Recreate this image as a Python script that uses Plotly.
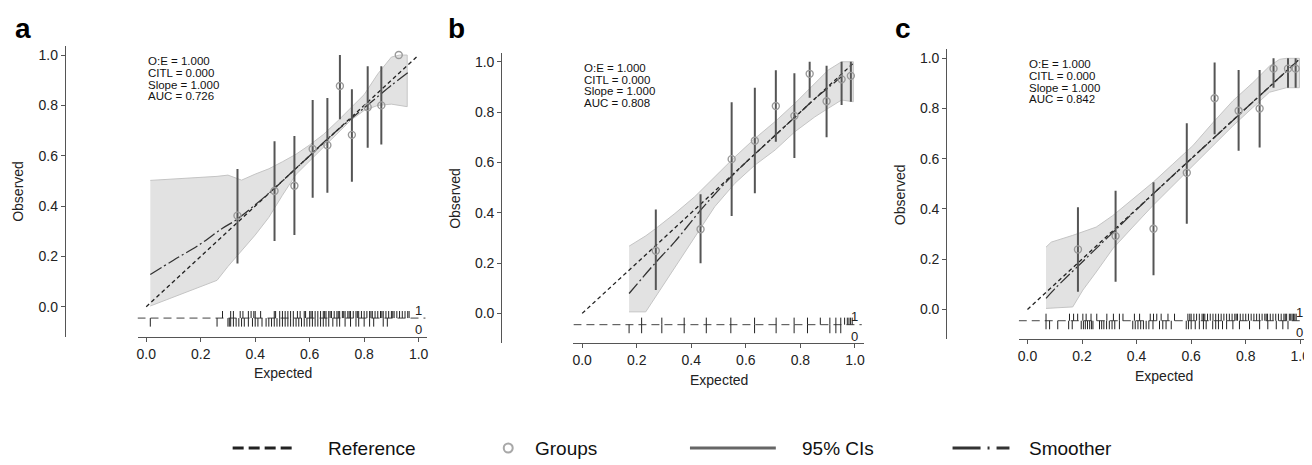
import plotly.graph_objects as go

FONT = "Liberation Sans, Arial, Helvetica, sans-serif"

# ------------------------------------------------------------------ data
x_ticks = [0.0, 0.2, 0.4, 0.6, 0.8, 1.0]
y_ticks = [0.0, 0.2, 0.4, 0.6, 0.8, 1.0]
stat_names = ["O:E", "CITL", "Slope", "AUC"]
stats_a = [1.000, 0.000, 1.000, 0.726]
stats_b = [1.000, 0.000, 1.000, 0.808]
stats_c = [1.000, 0.000, 1.000, 0.842]

# grouped observed proportions with 95% CIs
grp_x_a = [0.335, 0.471, 0.544, 0.611, 0.665, 0.711, 0.755, 0.813, 0.863, 0.927]
grp_y_a = [0.362, 0.460, 0.481, 0.627, 0.642, 0.877, 0.683, 0.793, 0.800, 1.000]
grp_lo_a = [0.172, 0.261, 0.285, 0.433, 0.453, 0.745, 0.497, 0.632, 0.645, 1.000]
grp_hi_a = [0.547, 0.658, 0.678, 0.821, 0.829, 1.000, 0.864, 0.956, 0.956, 1.000]

grp_x_b = [0.270, 0.434, 0.548, 0.633, 0.710, 0.778, 0.834, 0.896, 0.951, 0.985]
grp_y_b = [0.249, 0.334, 0.613, 0.686, 0.824, 0.785, 0.952, 0.843, 0.930, 0.944]
grp_lo_b = [0.093, 0.199, 0.387, 0.477, 0.682, 0.617, 0.857, 0.700, 0.828, 0.841]
grp_hi_b = [0.413, 0.473, 0.839, 0.897, 0.966, 0.954, 1.000, 0.984, 1.000, 1.000]

grp_x_c = [0.185, 0.323, 0.462, 0.584, 0.686, 0.774, 0.851, 0.902, 0.955, 0.983]
grp_y_c = [0.239, 0.292, 0.321, 0.544, 0.841, 0.791, 0.800, 0.959, 0.959, 0.959]
grp_lo_c = [0.070, 0.110, 0.136, 0.341, 0.698, 0.632, 0.645, 0.883, 0.883, 0.883]
grp_hi_c = [0.407, 0.473, 0.506, 0.741, 0.983, 0.954, 0.954, 1.000, 1.000, 1.000]

# smoother (flexible calibration curve)
smo_x_a = [0.015, 0.10, 0.20, 0.28, 0.33, 0.40, 0.47, 0.55, 0.60, 0.65, 0.70, 0.75, 0.80, 0.85, 0.90, 0.96]
smo_y_a = [0.128, 0.185, 0.250, 0.312, 0.345, 0.405, 0.470, 0.550, 0.600, 0.652, 0.700, 0.745, 0.790, 0.835, 0.880, 0.930]
smo_x_b = [0.172, 0.267, 0.340, 0.434, 0.500, 0.548, 0.600, 0.700, 0.800, 0.850, 0.900, 0.955]
smo_y_b = [0.079, 0.199, 0.285, 0.410, 0.490, 0.545, 0.600, 0.700, 0.800, 0.850, 0.895, 0.945]
smo_x_c = [0.068, 0.100, 0.200, 0.300, 0.400, 0.500, 0.600, 0.700, 0.800, 0.900, 0.985]
smo_y_c = [0.044, 0.082, 0.188, 0.293, 0.398, 0.500, 0.600, 0.700, 0.800, 0.900, 0.985]

# smoother confidence band
band_x_a = [0.015, 0.10, 0.20, 0.26, 0.30, 0.35, 0.40, 0.45, 0.50, 0.55, 0.60, 0.65, 0.70, 0.75, 0.80, 0.85, 0.90, 0.93, 0.958]
band_hi_a = [0.502, 0.507, 0.513, 0.518, 0.523, 0.503, 0.527, 0.548, 0.576, 0.606, 0.643, 0.684, 0.735, 0.789, 0.843, 0.925, 0.992, 1.000, 1.000]
band_lo_a = [0.003, 0.040, 0.080, 0.105, 0.160, 0.223, 0.285, 0.355, 0.443, 0.526, 0.580, 0.634, 0.687, 0.740, 0.780, 0.800, 0.805, 0.800, 0.795]

band_x_b = [0.172, 0.233, 0.267, 0.340, 0.413, 0.486, 0.560, 0.633, 0.707, 0.780, 0.853, 0.902, 0.951, 0.994]
band_hi_b = [0.267, 0.308, 0.335, 0.397, 0.464, 0.543, 0.622, 0.695, 0.762, 0.835, 0.914, 0.967, 1.000, 1.000]
band_lo_b = [0.006, 0.006, 0.060, 0.185, 0.304, 0.424, 0.517, 0.589, 0.649, 0.722, 0.781, 0.815, 0.848, 0.841]

band_x_c = [0.068, 0.087, 0.166, 0.203, 0.252, 0.313, 0.386, 0.460, 0.533, 0.606, 0.680, 0.753, 0.826, 0.887, 0.924, 0.949, 0.997]
band_hi_c = [0.248, 0.268, 0.295, 0.310, 0.328, 0.374, 0.440, 0.506, 0.579, 0.652, 0.744, 0.831, 0.903, 0.969, 0.996, 1.000, 1.000]
band_lo_c = [0.004, 0.004, 0.010, 0.077, 0.149, 0.242, 0.328, 0.414, 0.493, 0.573, 0.652, 0.731, 0.804, 0.865, 0.875, 0.883, 0.883]

# rug of predicted risks (1 = events above the line, 0 = non-events below)
rug1_a = [0.28, 0.31, 0.32, 0.345, 0.355, 0.375, 0.385, 0.395, 0.40, 0.42, 0.47, 0.475, 0.49, 0.50,
          0.51, 0.52, 0.53, 0.54, 0.555, 0.565, 0.58, 0.585, 0.60, 0.605, 0.61, 0.62, 0.63, 0.64,
          0.65, 0.655, 0.66, 0.67, 0.675, 0.68, 0.69, 0.70, 0.705, 0.71, 0.72, 0.725, 0.73, 0.74,
          0.745, 0.75, 0.76, 0.77, 0.775, 0.78, 0.79, 0.80, 0.81, 0.82, 0.825, 0.83, 0.84, 0.85,
          0.86, 0.865, 0.87, 0.88, 0.89, 0.90, 0.905, 0.91, 0.92, 0.93, 0.94, 0.95, 0.96, 0.965]
rug0_a = [0.015, 0.26, 0.30, 0.305, 0.31, 0.32, 0.33, 0.34, 0.35, 0.36, 0.375, 0.39, 0.40, 0.41,
          0.425, 0.44, 0.45, 0.46, 0.47, 0.48, 0.49, 0.50, 0.51, 0.52, 0.53, 0.54, 0.55, 0.56,
          0.57, 0.58, 0.59, 0.60, 0.61, 0.62, 0.63, 0.64, 0.65, 0.66, 0.67, 0.685, 0.70, 0.71,
          0.73, 0.75, 0.77, 0.78, 0.80, 0.82, 0.835, 0.87, 0.885]
rug1_b = [0.218, 0.292, 0.374, 0.455, 0.545, 0.632, 0.711, 0.777, 0.826, 0.873, 0.908, 0.930,
          0.948, 0.962, 0.972, 0.978, 0.984, 0.990]
rug0_b = [0.172, 0.218, 0.292, 0.374, 0.455, 0.545, 0.632, 0.711, 0.777, 0.826, 0.908, 0.930, 0.948]
rug1_c = [0.068, 0.154, 0.169, 0.184, 0.203, 0.215, 0.233, 0.254, 0.291, 0.315, 0.337, 0.350,
          0.392, 0.411, 0.450, 0.462, 0.474, 0.490, 0.515, 0.539, 0.588, 0.595, 0.60, 0.61, 0.62,
          0.63, 0.64, 0.645, 0.65, 0.66, 0.67, 0.68, 0.69, 0.70, 0.71, 0.72, 0.73, 0.74, 0.75,
          0.76, 0.765, 0.77, 0.78, 0.79, 0.80, 0.81, 0.82, 0.83, 0.84, 0.85, 0.86, 0.87, 0.875,
          0.88, 0.89, 0.90, 0.91, 0.92, 0.93, 0.94, 0.945, 0.95, 0.96, 0.965, 0.97, 0.975, 0.98, 0.985]
rug0_c = [0.068, 0.081, 0.111, 0.151, 0.164, 0.197, 0.205, 0.212, 0.22, 0.228, 0.235, 0.24,
          0.264, 0.272, 0.28, 0.29, 0.30, 0.31, 0.32, 0.337, 0.386, 0.395, 0.405, 0.415, 0.425,
          0.435, 0.445, 0.46, 0.484, 0.496, 0.508, 0.527, 0.582, 0.59, 0.60, 0.615, 0.63, 0.645,
          0.655, 0.679, 0.69, 0.70, 0.715, 0.73, 0.753, 0.777, 0.814, 0.851, 0.881, 0.912, 0.936, 0.955]

legend_labels = ["Reference", "Groups", "95% CIs", "Smoother"]

# ------------------------------------------------------------------ style / geometry
AX = "#555555"
TXT = "#222222"
REF_DASH = "4px,3px"
SMO_DASH = "13px,3px,2px,3px"
OFF = 8                      # page body margin of the html page
W, H = 1312 - OFF, 465 - OFF  # figure size so that it fits the window
RUG_BASE = -0.045
RUG_UP = 0.028
RUG_DN = 0.034


def px(xp):
    """window pixel x -> paper fraction"""
    return (xp - OFF) / W


def py(yp):
    """window pixel y -> paper fraction"""
    return 1 - (yp - OFF) / H


# panel geometry in window pixels: plot box and free y-axis position
geom = {
    "a": dict(x0=136.7, x1=427.0, y0=46.0, y1=336.7, yax=64.0),
    "b": dict(x0=573.3, x1=864.0, y0=52.7, y1=343.3, yax=501.0),
    "c": dict(x0=1019.3, x1=1310.0, y0=49.3, y1=339.3, yax=946.7),
}
letter_px = {"a": (12, 29), "b": (446, 28), "c": (893, 29)}

panel_data = {
    "a": dict(stats=stats_a, gx=grp_x_a, gy=grp_y_a, glo=grp_lo_a, ghi=grp_hi_a,
              sx=smo_x_a, sy=smo_y_a, bx=band_x_a, bhi=band_hi_a, blo=band_lo_a,
              r1=rug1_a, r0=rug0_a),
    "b": dict(stats=stats_b, gx=grp_x_b, gy=grp_y_b, glo=grp_lo_b, ghi=grp_hi_b,
              sx=smo_x_b, sy=smo_y_b, bx=band_x_b, bhi=band_hi_b, blo=band_lo_b,
              r1=rug1_b, r0=rug0_b),
    "c": dict(stats=stats_c, gx=grp_x_c, gy=grp_y_c, glo=grp_lo_c, ghi=grp_hi_c,
              sx=smo_x_c, sy=smo_y_c, bx=band_x_c, bhi=band_hi_c, blo=band_lo_c,
              r1=rug1_c, r0=rug0_c),
}

fig = go.Figure()
annotations = []
shapes = []
layout_axes = {}

for i, p in enumerate(["a", "b", "c"]):
    g = geom[p]
    d = panel_data[p]
    sfx = "" if i == 0 else str(i + 1)
    xa, ya = "x" + sfx, "y" + sfx

    xdom = [px(g["x0"]), px(g["x1"])]
    ydom = [py(g["y1"]), py(g["y0"])]
    common = dict(showline=True, linecolor=AX, linewidth=1.2, ticks="outside", ticklen=4,
                  tickwidth=1.2, tickcolor=AX, showgrid=False, zeroline=False,
                  tickmode="array", fixedrange=True,
                  tickfont=dict(family=FONT, size=14, color=TXT))
    layout_axes["xaxis" + sfx] = dict(domain=xdom, range=[-0.032, 1.032], anchor=ya,
                                      tickvals=x_ticks, ticktext=[f"{v:.1f}" for v in x_ticks],
                                      **common)
    layout_axes["yaxis" + sfx] = dict(domain=ydom, range=[-0.119, 1.036], anchor="free",
                                      position=px(g["yax"]), tickvals=y_ticks,
                                      ticktext=[f"{v:.1f}" for v in y_ticks], **common)

    # confidence band of the smoother
    fig.add_trace(go.Scatter(x=d["bx"] + d["bx"][::-1], y=d["bhi"] + d["blo"][::-1],
                             fill="toself", fillcolor="#e2e2e2", mode="lines",
                             line=dict(color="#c4c4c4", width=1), xaxis=xa, yaxis=ya,
                             hoverinfo="skip", showlegend=False))
    # reference diagonal
    fig.add_trace(go.Scatter(x=[0, 0.995], y=[0, 0.995], mode="lines",
                             line=dict(color="#222222", width=1.3, dash=REF_DASH),
                             xaxis=xa, yaxis=ya, showlegend=False))
    # smoother
    fig.add_trace(go.Scatter(x=d["sx"], y=d["sy"], mode="lines",
                             line=dict(color="#333333", width=1.3, dash=SMO_DASH, shape="spline"),
                             xaxis=xa, yaxis=ya, showlegend=False))
    # CI bars
    cx, cy = [], []
    for x, lo, hi in zip(d["gx"], d["glo"], d["ghi"]):
        cx += [x, x, None]
        cy += [lo, hi, None]
    fig.add_trace(go.Scatter(x=cx, y=cy, mode="lines", line=dict(color="#555555", width=2),
                             xaxis=xa, yaxis=ya, showlegend=False))
    # group points
    fig.add_trace(go.Scatter(x=d["gx"], y=d["gy"], mode="markers",
                             marker=dict(symbol="circle-open", size=7,
                                         line=dict(color="#9a9a9a", width=1.4), color="#9a9a9a"),
                             xaxis=xa, yaxis=ya, showlegend=False))
    # rug baseline
    fig.add_trace(go.Scatter(x=[-0.032, 1.025], y=[RUG_BASE, RUG_BASE], mode="lines",
                             line=dict(color="#444444", width=1, dash="8px,5px"),
                             xaxis=xa, yaxis=ya, showlegend=False))
    rx, ry = [], []
    for x in d["r1"]:
        rx += [x, x, None]
        ry += [RUG_BASE, RUG_BASE + RUG_UP, None]
    for x in d["r0"]:
        rx += [x, x, None]
        ry += [RUG_BASE, RUG_BASE - RUG_DN, None]
    fig.add_trace(go.Scatter(x=rx, y=ry, mode="lines", line=dict(color="#222222", width=1),
                             xaxis=xa, yaxis=ya, showlegend=False))

    # rug labels
    for lab, yy in (("1", -0.014), ("0", -0.092)):
        annotations.append(dict(x=0.998, y=yy, xref=xa, yref=ya, text=lab, showarrow=False,
                                xanchor="center", yanchor="middle",
                                font=dict(family=FONT, size=13, color=TXT)))
    # statistics text
    for k, (nm, val) in enumerate(zip(stat_names, d["stats"])):
        annotations.append(dict(x=0.0, y=0.976 - 0.0465 * k, xref=xa, yref=ya,
                                text=f"{nm} = {val:.3f}", showarrow=False,
                                xanchor="left", yanchor="middle",
                                font=dict(family=FONT, size=11.5, color="#111111")))
    # axis titles
    annotations.append(dict(x=px(g["x0"] + 145.3 - 136.7 + 0.5 * 273.4),
                            y=py(g["y1"] + 36.3), xref="paper", yref="paper",
                            text="Expected", showarrow=False, xanchor="center", yanchor="middle",
                            font=dict(family=FONT, size=14, color=TXT)))
    annotations.append(dict(x=px(g["yax"] - 46.5), y=py((g["y0"] + g["y1"]) / 2),
                            xref="paper", yref="paper", text="Observed", textangle=-90,
                            showarrow=False, xanchor="center", yanchor="middle",
                            font=dict(family=FONT, size=14, color=TXT)))
    # panel letter
    lx, lyp = letter_px[p]
    annotations.append(dict(x=px(lx), y=py(lyp), xref="paper", yref="paper", text=f"<b>{p}</b>",
                            showarrow=False, xanchor="left", yanchor="middle",
                            font=dict(family=FONT, size=28, color="#000000")))

# ------------------------------------------------------------------ legend (bottom)
LY = 448
ly = py(LY)
shapes.append(dict(type="line", xref="paper", yref="paper", x0=px(232), x1=px(292), y0=ly, y1=ly,
                   line=dict(color="#222222", width=3, dash="11px,5px")))
shapes.append(dict(type="circle", xref="paper", yref="paper", x0=px(503.5), x1=px(512.5),
                   y0=py(LY + 4.5), y1=py(LY - 4.5),
                   line=dict(color="#a8a8a8", width=2)))
shapes.append(dict(type="line", xref="paper", yref="paper", x0=px(690), x1=px(776), y0=ly, y1=ly,
                   line=dict(color="#666666", width=3)))
shapes.append(dict(type="line", xref="paper", yref="paper", x0=px(953), x1=px(1010), y0=ly, y1=ly,
                   line=dict(color="#333333", width=3, dash="28px,7px,2px,7px")))
for lab, xpx in zip(legend_labels, [325, 533, 800, 1028]):
    annotations.append(dict(x=px(xpx), y=ly, xref="paper", yref="paper", text=lab,
                            showarrow=False, xanchor="left", yanchor="middle",
                            font=dict(family=FONT, size=19, color="#111111")))

fig.update_layout(width=W, height=H, margin=dict(l=0, r=0, t=0, b=0),
                  paper_bgcolor="white", plot_bgcolor="white", showlegend=False,
                  annotations=annotations, shapes=shapes, **layout_axes)

fig.write_html("out.html")
